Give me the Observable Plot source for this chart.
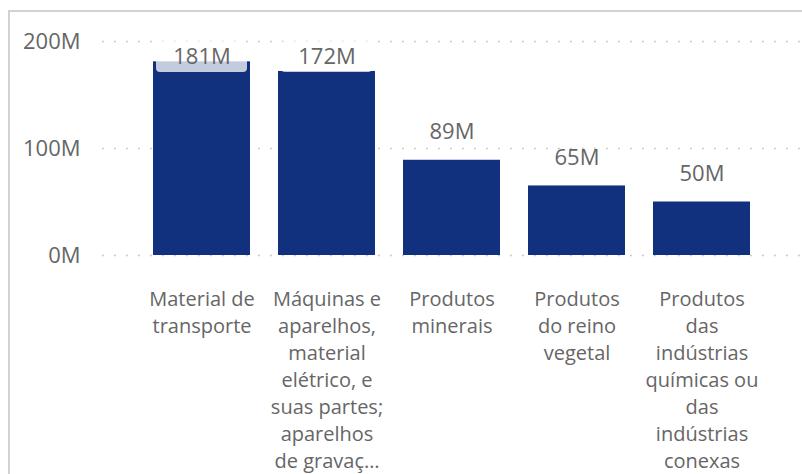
<!DOCTYPE html>
<html>
<head>
<meta charset="utf-8">
<script src="https://cdn.jsdelivr.net/npm/d3@7"></script>
<script src="https://cdn.jsdelivr.net/npm/@observablehq/plot@0.6"></script>
<style>
  html, body { margin: 0; padding: 0; background: #fff; }
  #wrap { position: relative; width: 802px; height: 474px; overflow: hidden; }
  #frame { position: absolute; left: 8px; top: 10px; right: -10px; bottom: -10px;
           border-top: 2px solid #d5d2cd; border-left: 2px solid #d5d2cd; pointer-events: none; }
</style>
</head>
<body>
<div id="wrap"><div id="frame"></div></div>
<script>
const categories = [
  "Material de transporte",
  "Máquinas e aparelhos, material elétrico, e suas partes; aparelhos de gravação",
  "Produtos minerais",
  "Produtos do reino vegetal",
  "Produtos das indústrias químicas ou das indústrias conexas"
];
const values = [181, 172, 89, 65, 50]; // millions
const tickLabels = [
  "Material de\ntransporte",
  "Máquinas e\naparelhos,\nmaterial\nelétrico, e\nsuas partes;\naparelhos\nde gravaç…",
  "Produtos\nminerais",
  "Produtos\ndo reino\nvegetal",
  "Produtos\ndas\nindústrias\nquímicas ou\ndas\nindústrias\nconexas"
];
const yTicks = [0, 100, 200];
const labelCap = 159.5; // labels cannot rise above plot top

const data = categories.map((c, i) => ({category: c, value: values[i]}));
const tickMap = new Map(categories.map((c, i) => [c, tickLabels[i]]));
const clamped = data.filter(d => d.value > labelCap);

const barColor = "#11307e";
const textColor = "#666666";

const chart = Plot.plot({
  width: 802,
  height: 474,
  marginLeft: 102,
  marginRight: 0,
  marginTop: 41,
  marginBottom: 219,
  style: {fontFamily: "'Open Sans', sans-serif", background: "transparent", overflow: "visible"},
  x: {domain: categories, paddingInner: 0.222, paddingOuter: 0.4, axis: null},
  y: {domain: [0, 200], axis: null},
  marks: [
    Plot.ruleY(yTicks, {stroke: "#bdbdbd", strokeWidth: 1.6, strokeDasharray: "1.6,10.4"}),
    Plot.barY(data, {x: "category", y: "value", fill: barColor}),
    Plot.barY(clamped, {x: "category", y1: 171, y2: 200, fill: "white", fillOpacity: 0.75, insetLeft: 3, insetRight: 3, rx: 4}),
    Plot.text(data, {x: "category", y: d => Math.min(d.value, labelCap), dy: -28,
      text: d => d.value + "M", fontSize: 22, fill: textColor}),
    Plot.axisY(yTicks, {tickSize: 0, tickPadding: 22, tickFormat: d => d + "M",
      fontSize: 22, fill: textColor, label: null}),
    Plot.axisX({tickSize: 0, tickPadding: 31, tickFormat: d => tickMap.get(d),
      fontSize: 20, lineHeight: 1.35, fill: textColor, label: null})
  ]
});
document.getElementById("wrap").insertBefore(chart, document.getElementById("frame"));
</script>
</body>
</html>
